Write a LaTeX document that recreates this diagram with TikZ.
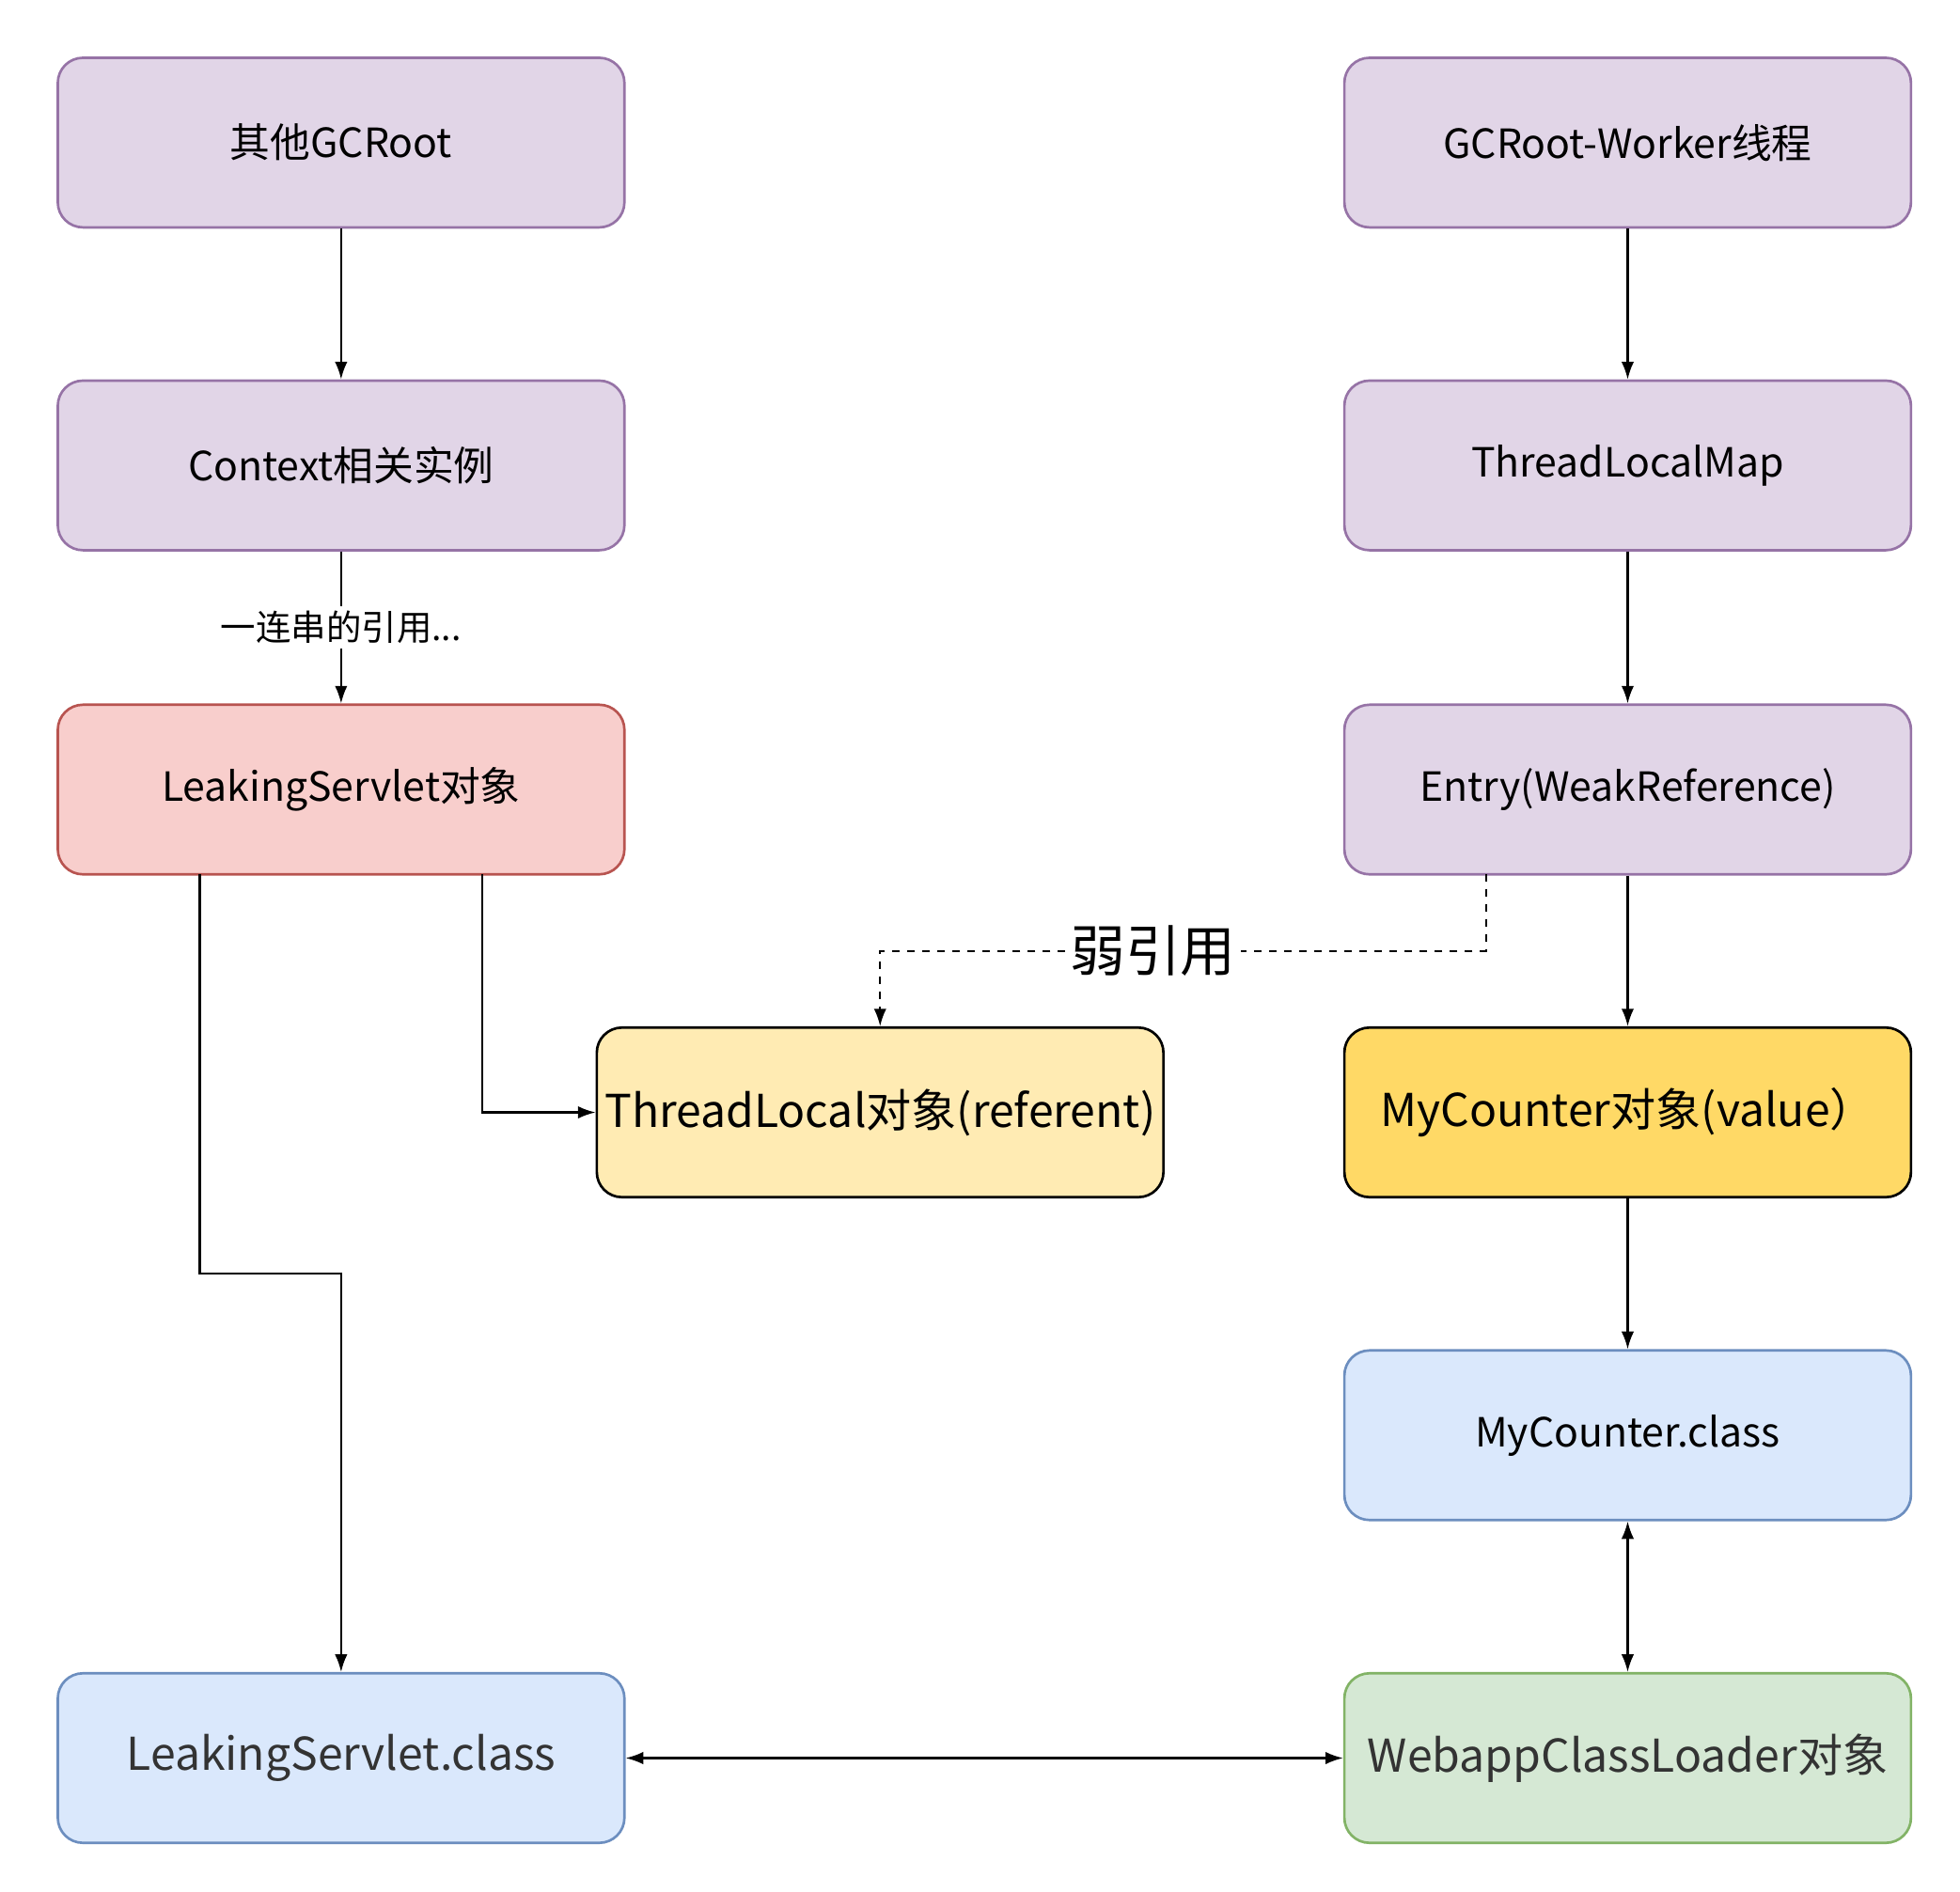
\documentclass[tikz,border=0pt]{standalone}
\usepackage{fontspec}
\setmainfont{Noto Sans CJK SC}
\usetikzlibrary{arrows.meta}
\definecolor{pf}{HTML}{E1D5E7}\definecolor{ps}{HTML}{9673A6}
\definecolor{rf}{HTML}{F8CECC}\definecolor{rs}{HTML}{B85450}
\definecolor{yf}{HTML}{FFEBB3}\definecolor{of}{HTML}{FFD966}
\definecolor{bf}{HTML}{DAE8FC}\definecolor{bs}{HTML}{6C8EBF}
\definecolor{gf}{HTML}{D5E8D4}\definecolor{gs}{HTML}{82B366}
\begin{document}
\begin{tikzpicture}[x=0.5pt,y=-0.5pt,
 box/.style={draw,rounded corners=10pt,line width=1pt,minimum width=225.5pt,minimum height=67.5pt,inner sep=0pt,font=\fontsize{16}{18}\selectfont},
 pur/.style={box,fill=pf,draw=ps},
 big/.style={font=\fontsize{18}{20}\selectfont},
 arr/.style={-{Latex[length=7pt,width=5pt]},line width=0.8pt},
 darr/.style={{Latex[length=7pt,width=5pt]}-{Latex[length=7pt,width=5pt]},line width=0.8pt}]
\useasboundingbox (0,0) rectangle (1560,1506);
\node[pur] (a1) at (271.5,113.5) {其他GCRoot};
\node[pur] (a2) at (271.5,370.5) {Context相关实例};
\node[box,fill=rf,draw=rs] (a3) at (271.5,628.5) {LeakingServlet对象};
\node[box,fill=bf,draw=bs,big,text=black!80] (a6) at (271.5,1399.5) {LeakingServlet.class};
\node[box,fill=yf,draw=black,big] (tl) at (700.5,885.5) {ThreadLocal对象(referent)};
\node[pur] (b1) at (1295.5,113.5) {GCRoot-Worker线程};
\node[pur] (b2) at (1295.5,370.5) {ThreadLocalMap};
\node[pur] (b3) at (1295.5,628.5) {Entry(WeakReference)};
\node[box,fill=of,draw=black,big] (b4) at (1295.5,885.5) {MyCounter对象(value）};
\node[box,fill=bf,draw=bs] (b5) at (1295.5,1142.5) {MyCounter.class};
\node[box,fill=gf,draw=gs,big,text=black!80] (b6) at (1295.5,1399.5) {WebappClassLoader对象};
\draw[arr] (a1) -- (a2);
\draw[arr] (a2) -- node[fill=white,inner sep=2pt,font=\fontsize{14}{16}\selectfont]{一连串的引用...} (a3);
\coordinate (c1) at (159,696);
\coordinate (c2) at (384,696);
\draw[arr] (c1) -- (159,1014) -- (271.5,1014) -- (a6.north);
\draw[arr] (c2) -- (384,885.5) -- (tl.west);
\draw[arr] (b1) -- (b2);
\draw[arr] (b2) -- (b3);
\draw[arr] (b3) -- (b4);
\draw[arr] (b4) -- (b5);
\draw[darr] (b5) -- (b6);
\draw[darr] (a6) -- (b6);
\coordinate (d1) at (1183,696);
\draw[arr,dashed] (d1) -- (1183,757) -- node[pos=0.55,fill=white,inner sep=2pt,font=\fontsize{22}{24}\selectfont]{弱引用} (700.5,757) -- (tl.north);
\end{tikzpicture}
\end{document}
